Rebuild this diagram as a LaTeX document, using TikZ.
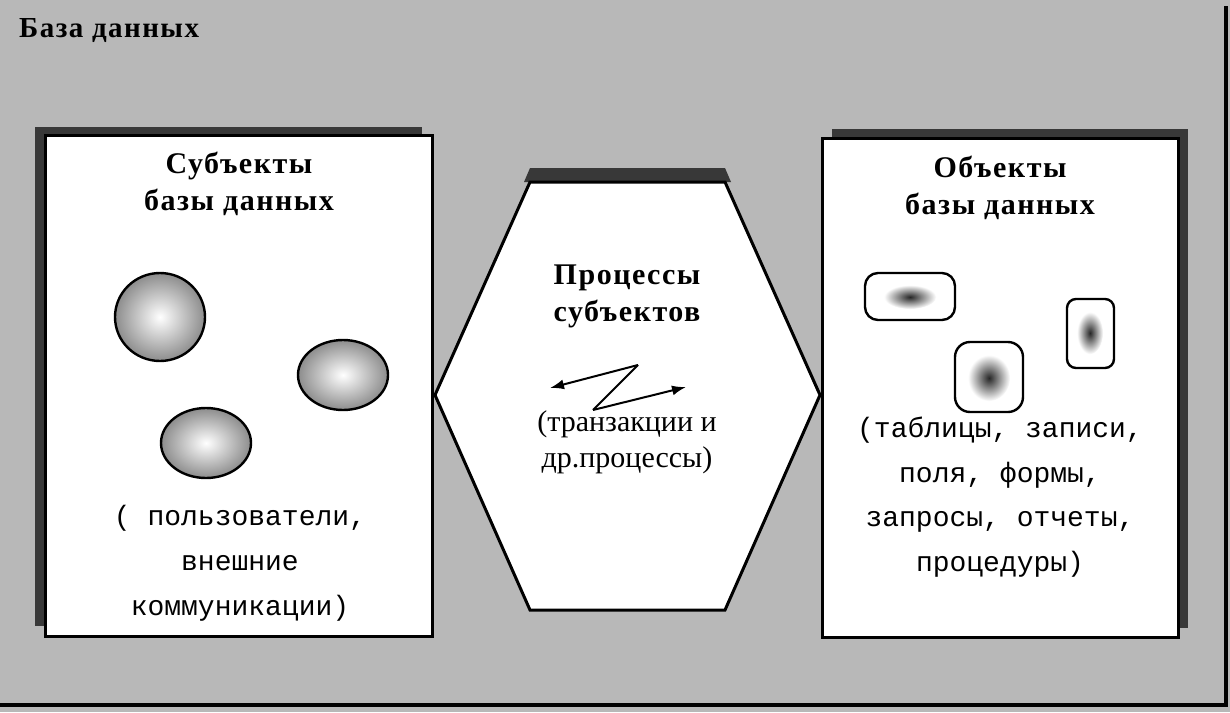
\documentclass[tikz,border=0pt]{standalone}
\usepackage{fontspec}
\setmainfont{Liberation Serif}
\newfontfamily\monof{Liberation Mono}
\newfontfamily\titlef[LetterSpace=5]{Liberation Serif}
\usetikzlibrary{arrows.meta}
\tikzset{
  bg/.style={fill=black!28, draw=none},
  shadowfill/.style={fill=black!78, draw=none},
  panel/.style={fill=white, draw=black, line width=3pt},
  blob/.style={draw=black, line width=2.4pt, inner color=white, outer color=black!45},
  objbox/.style={draw=black, line width=2.4pt, fill=white},
  core/.style={inner color=black!85, outer color=white, draw=none},
  ttl/.style={font=\titlef\bfseries\fontsize{30}{37}\selectfont, align=center, inner sep=0pt},
  body/.style={font=\monof\fontsize{28}{45}\selectfont, align=center, inner sep=0pt},
  hexbody/.style={font=\fontsize{30}{36}\selectfont, align=center, inner sep=0pt},
  zline/.style={line width=2pt, black},
  ztip/.style={-{Latex[length=14pt,width=10pt]}}
}
\begin{document}
\begin{tikzpicture}[x=1pt,y=-1pt]
\useasboundingbox (0,0) rectangle (1230,712);
% background
\fill[bg] (0,0) rectangle (1230,712);
\draw[line width=4pt] (1226,6) -- (1226,705) -- (0,705);
% caption
\node[anchor=west, inner sep=0pt, font=\titlef\bfseries\fontsize{29}{30}\selectfont] (cap) at (19,31) {База данных};
% shadows
\fill[shadowfill] (35,127) rectangle (422,626);
\fill[shadowfill] (832,129) rectangle (1188,628);
\fill[shadowfill] (530,168) -- (725,168) -- (731,182) -- (524,182) -- cycle;
% left panel
\draw[panel] (45,135) rectangle (432,636);
% right panel
\draw[panel] (822,138) rectangle (1178,637);
% hexagon
\draw[panel] (530,182) -- (725,182) -- (820,395) -- (725,610) -- (530,610) -- (435,395) -- cycle;
% titles
\node[ttl] (subj) at (239,184) {Субъекты\\базы данных};
\node[ttl] (obj) at (1000,188) {Объекты\\базы данных};
\node[ttl] (proc) at (627,296) {Процессы\\субъектов};
% subjects
\shade[blob] (160,317) ellipse [x radius=45, y radius=44];
\shade[blob] (343,375) ellipse [x radius=45, y radius=35];
\shade[blob] (206,443) ellipse [x radius=45, y radius=35];
\node[body] (subjtxt) at (240,563) {( пользователи,\\внешние\\коммуникации)};
% objects
\draw[objbox, rounded corners=13pt] (865,273) rectangle (955,320);
\shade[core] (910,297) ellipse [x radius=26, y radius=12];
\draw[objbox, rounded corners=9pt] (1067,299) rectangle (1114,368);
\shade[core] (1090,333) ellipse [x radius=13, y radius=21];
\draw[objbox, rounded corners=15pt] (955,342) rectangle (1023,412);
\shade[core] (989,378) ellipse [x radius=21, y radius=23];
\node[body, font=\monof\fontsize{28}{44.5}\selectfont] (objtxt) at (1000,497) {(таблицы, записи,\\поля, формы,\\запросы, отчеты,\\процедуры)};
% processes
\coordinate (zl) at (550,388);
\coordinate (zt) at (638,365);
\coordinate (zb) at (593,410);
\coordinate (zr) at (686,387);
\draw[zline, ztip] (zt) -- (zl);
\draw[zline] (zt) -- (zb);
\draw[zline, ztip] (zb) -- (zr);
\node[hexbody] (proctxt) at (627,442) {(транзакции и\\др.процессы)};
\end{tikzpicture}
\end{document}
